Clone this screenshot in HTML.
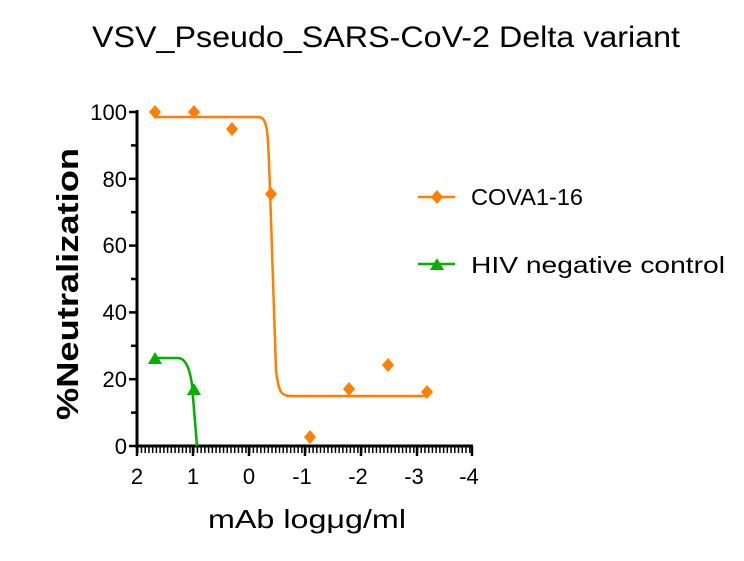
<!DOCTYPE html>
<html><head><style>
body{margin:0;background:#fff;}
svg{display:block;font-family:"Liberation Sans",Arial,sans-serif;}
</style></head><body>
<svg width="744" height="561" viewBox="0 0 744 561">
<text x="92" y="47" font-size="30" textLength="588" lengthAdjust="spacingAndGlyphs" fill="#000">VSV_Pseudo_SARS-CoV-2 Delta variant</text>
<text transform="translate(78,420) rotate(-90)" font-size="31" font-weight="bold" textLength="272" lengthAdjust="spacingAndGlyphs" fill="#000">%Neutralization</text>
<text x="208" y="528" font-size="26" textLength="198" lengthAdjust="spacingAndGlyphs" fill="#000">mAb logμg/ml</text>
<!-- axes -->
<line x1="137" y1="110" x2="137" y2="448" stroke="#000" stroke-width="3"/>
<line x1="135.5" y1="446" x2="473" y2="446" stroke="#000" stroke-width="3"/>
<g stroke="#000" stroke-width="2.5">
<line x1="129" y1="112" x2="137" y2="112"/>
<line x1="131" y1="145.4" x2="137" y2="145.4"/>
<line x1="129" y1="178.8" x2="137" y2="178.8"/>
<line x1="131" y1="212.2" x2="137" y2="212.2"/>
<line x1="129" y1="245.6" x2="137" y2="245.6"/>
<line x1="131" y1="279" x2="137" y2="279"/>
<line x1="129" y1="312.4" x2="137" y2="312.4"/>
<line x1="131" y1="345.8" x2="137" y2="345.8"/>
<line x1="129" y1="379.2" x2="137" y2="379.2"/>
<line x1="131" y1="412.6" x2="137" y2="412.6"/>
<line x1="129" y1="446" x2="137" y2="446"/>
</g>
<g font-size="22" text-anchor="end" fill="#000">
<text x="127" y="120">100</text>
<text x="127" y="187">80</text>
<text x="127" y="253">60</text>
<text x="127" y="320">40</text>
<text x="127" y="387">20</text>
<text x="127" y="454">0</text>
</g>
<line x1="137" y1="450" x2="472" y2="450" stroke="#000" stroke-width="6" stroke-dasharray="1.5 2.23"/>
<g stroke="#000" stroke-width="2.5">
<line x1="137" y1="446" x2="137" y2="456"/>
<line x1="193" y1="446" x2="193" y2="456"/>
<line x1="249" y1="446" x2="249" y2="456"/>
<line x1="305" y1="446" x2="305" y2="456"/>
<line x1="361" y1="446" x2="361" y2="456"/>
<line x1="417" y1="446" x2="417" y2="456"/>
<line x1="472" y1="446" x2="472" y2="456"/>
</g>
<g font-size="22" text-anchor="middle" fill="#000">
<text x="137" y="484">2</text>
<text x="193" y="484">1</text>
<text x="249" y="484">0</text>
<text x="302" y="484">-1</text>
<text x="358" y="484">-2</text>
<text x="414" y="484">-3</text>
<text x="469" y="484">-4</text>
</g>
<path d="M155,117 L258,117 C268,117 268,130 270,190 L276,370 C279,396 282,396 295,396 L427,396" fill="none" stroke="#ff7f00" stroke-width="2.5"/>
<path d="M155,358 L178,358 C186,358 190,370 192,385 L197,446" fill="none" stroke="#00b000" stroke-width="2.5"/>
<g fill="#ff7f00">
<polygon points="155,105 161,112 155,119 149,112"/>
<polygon points="194,105 200,112 194,119 188,112"/>
<polygon points="232,122 238,129 232,136 226,129"/>
<polygon points="271,187 277,194 271,201 265,194"/>
<polygon points="310,430 316,437 310,444 304,437"/>
<polygon points="349,382 355,389 349,396 343,389"/>
<polygon points="388,358 394,365 388,372 382,365"/>
<polygon points="427,385 433,392 427,399 421,392"/>
</g>
<g fill="#00b000">
<polygon points="155,352 162,364 148,364"/>
<polygon points="194,383 201,395 187,395"/>
</g>
<line x1="418" y1="197" x2="455" y2="197" stroke="#ff7f00" stroke-width="2.5"/>
<polygon points="437,190 443,197 437,204 431,197" fill="#ff7f00"/>
<text x="471" y="205" font-size="23" textLength="112" lengthAdjust="spacingAndGlyphs" fill="#000">COVA1-16</text>
<line x1="418" y1="264" x2="455" y2="264" stroke="#00b000" stroke-width="2.5"/>
<polygon points="437,258 444,270 430,270" fill="#00b000"/>
<text x="471" y="273" font-size="23" textLength="254" lengthAdjust="spacingAndGlyphs" fill="#000">HIV negative control</text>
</svg>
</body></html>
